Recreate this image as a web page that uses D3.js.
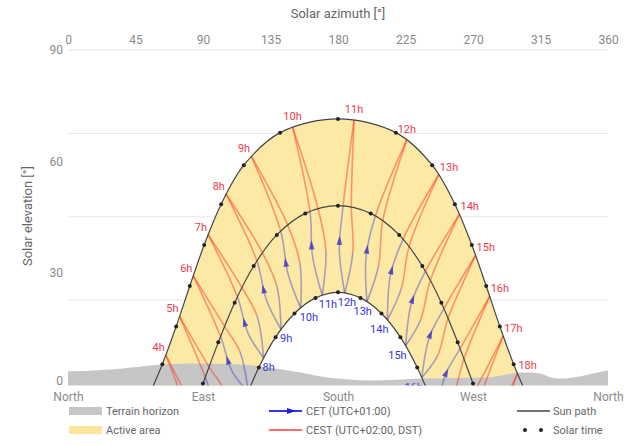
<!DOCTYPE html>
<html><head><meta charset="utf-8">
<script src="https://cdn.jsdelivr.net/npm/d3@7"></script>
<style>
html,body{margin:0;padding:0;background:#fff;}
svg{display:block;font-family:Roboto,"Noto Sans",sans-serif;}
</style></head><body>
<svg id="chart" width="640" height="446"></svg>
<script>
// ---------- data (azimuth °, elevation °) ----------
const azimuthTicks = [0,45,90,135,180,225,270,315,360];
const elevationTicks = [0,30,60,90];
const elevationGrid = [22.5,45,67.5,90];
const cardinalAzimuths = [0,90,180,270,360];
const cardinalNames = ["North","East","South","West","North"];

const terrainHorizon = [[0,3.3],[20,3.6],[35,4.0],[57,4.9],[75,5.3],[90,5.4],[110,5.2],[123,4.9],[139,4.0],[155,3.0],[173,1.6],[190,1.0],[201,0.8],[220,1.0],[235,1.35],[260,1.5],[279,1.6],[292,2.4],[301,3.0],[308,3.0],[315,2.7],[322,1.6],[328,1.35],[341,1.9],[350,2.7],[355,3.2],[360,3.5]];

// sun paths, one point per solar hour
const summerPath = [[52.8,-4.3],[62.9,5.2],[72.1,15.4],[81.2,26.3],[90.8,37.4],[102.1,48.4],[117.2,58.9],[141.4,67.7],[180,71.4],[218.6,67.7],[242.8,58.9],[257.9,48.4],[269.2,37.4],[278.8,26.3],[287.9,15.4],[297.1,5.2],[307.2,-4.3]];
const equinoxPath = [[79.8,-11.1],[90,0],[100.2,11.1],[111.1,21.8],[123.8,31.7],[139.2,40.1],[158.2,45.9],[180,48.0],[201.8,45.9],[220.8,40.1],[236.2,31.7],[248.9,21.8],[259.8,11.1],[270,0],[280.2,-11.1]];
const winterPath = [[117.2,-5.2],[127.2,4.3],[138.4,12.5],[151.0,18.9],[165.0,23.1],[180,24.6],[195.0,23.1],[209.0,18.9],[221.6,12.5],[232.8,4.3],[242.8,-5.2]];

// clock-hour lines (CET hour), key points through the year
const clockHours = [5,6,7,8,9,10,11,12,13,14,15,16,17,18,19];
const cestLabels = ["4h","5h","6h","7h","8h","9h","10h","11h","12h","13h","14h","15h","16h","17h","18h"];
const cetLabelHours = [8,9,10,11,12,13,14,15,16];
const winterPoints = [[101.5,-23.0],[110.6,-12.3],[120.1,-2.2],[130.4,6.9],[142.0,14.6],[155.1,20.4],[169.5,23.8],[184.5,24.4],[199.3,22.1],[213.0,17.2],[225.1,10.2],[235.9,1.6],[245.7,-8.2],[254.9,-18.7],[264.0,-29.6]];
const springLowPoints = [[89.6,-18.5],[99.5,-7.5],[109.4,3.3],[120.2,13.4],[132.4,22.4],[146.6,29.7],[163.0,34.4],[180.9,36.0],[198.7,34.1],[214.9,29.1],[228.9,21.6],[240.9,12.5],[251.6,2.3],[261.5,-8.6],[271.4,-19.7]];
const springEquinoxPoints = [[81.4,-9.4],[91.5,1.7],[101.7,12.7],[112.9,23.4],[125.9,33.1],[141.8,41.1],[161.3,46.5],[183.4,47.9],[204.9,45.2],[223.3,38.9],[238.3,30.3],[250.6,20.2],[261.4,9.4],[271.5,-1.7],[281.7,-12.7]];
const autumnEquinoxPoints = [[84.0,-6.7],[94.0,4.5],[104.4,15.4],[115.9,25.9],[129.6,35.3],[146.4,42.8],[166.7,47.2],[188.9,47.7],[209.8,43.9],[227.4,37.0],[241.6,27.9],[253.4,17.6],[264.0,6.7],[274.0,-4.5],[284.4,-15.4]];
const autumnLowPoints = [[94.6,-13.0],[104.4,-2.0],[114.7,8.5],[126.1,18.1],[139.2,26.3],[154.6,32.4],[171.9,35.6],[189.9,35.5],[207.1,31.9],[222.2,25.6],[235.1,17.2],[246.4,7.5],[256.6,-3.1],[266.4,-14.1],[276.6,-25.2]];
const summerPoints = [[65.2,7.7],[74.4,18.1],[83.6,29.0],[93.4,40.2],[105.3,51.2],[122.1,61.4],[149.7,69.2],[190.7,71.2],[225.9,65.8],[247.2,56.4],[261.0,45.7],[271.7,34.6],[281.1,23.5],[290.1,12.8],[299.6,2.7]];

const legendItems = ["Terrain horizon","Active area","CET (UTC+01:00)","CEST (UTC+02:00, DST)","Sun path","Solar time"];

// ---------- drawing ----------
const svg = d3.select("#chart");
const x = d3.scaleLinear().domain([0,360]).range([68,608]);
const y = d3.scaleLinear().domain([0,90]).range([383.5,50]);

const COL_RED = "#ff2a10", COL_BLUE = "#3434c8";
const lineGen = d3.line().x(p=>x(p[0])).y(p=>y(p[1])).curve(d3.curveCatmullRom.alpha(0.5));

svg.append("defs").append("clipPath").attr("id","plotClip")
  .append("rect").attr("x",68).attr("y",50).attr("width",540).attr("height",335.5);

// titles
svg.append("text").attr("x",338).attr("y",18).attr("text-anchor","middle")
  .attr("font-size",13).attr("fill","#666").text("Solar azimuth [°]");
svg.append("text").attr("transform","translate(32,216) rotate(-90)").attr("text-anchor","middle")
  .attr("font-size",13).attr("fill","#666").text("Solar elevation [°]");

// gridlines
svg.append("g").selectAll("line").data(elevationGrid).join("line")
  .attr("x1",x(0)).attr("x2",x(360)).attr("y1",d=>y(d)).attr("y2",d=>y(d))
  .attr("stroke","#e6e6e6").attr("stroke-width",1);

// axes
function styleAxis(g){
  g.select(".domain").remove();
  g.selectAll(".tick line").remove();
  g.selectAll("text").attr("fill","#8a8a8a").attr("font-size",12).attr("font-family","Roboto,'Noto Sans',sans-serif");
}
svg.append("g").attr("transform","translate(0,50)")
  .call(d3.axisTop(x).tickValues(azimuthTicks).tickSize(0).tickPadding(6)).call(styleAxis);
const leftAxis = svg.append("g").attr("transform","translate(68,0)")
  .call(d3.axisLeft(y).tickValues(elevationTicks).tickSize(0).tickPadding(5)).call(styleAxis);
leftAxis.selectAll(".tick text").filter(d=>d===0).attr("dy","0.1em");
svg.append("g").attr("transform","translate(0,383.5)")
  .call(d3.axisBottom(x).tickValues(cardinalAzimuths).tickFormat((d,i)=>cardinalNames[i]).tickSize(0).tickPadding(9))
  .call(styleAxis);

const plot = svg.append("g").attr("clip-path","url(#plotClip)");

// active area
const outer = lineGen(summerPath);
const inner = lineGen(winterPath.slice().reverse()).replace(/^M/,"L");
plot.append("path").attr("d",outer+inner+"Z").attr("fill","#fce9a6").attr("stroke","none");

// terrain
plot.append("path").datum(terrainHorizon)
  .attr("d",d3.area().x(p=>x(p[0])).y0(y(-1)).y1(p=>y(p[1])).curve(d3.curveMonotoneX))
  .attr("fill","#c6c6c6");

// helper: split a catmull-rom path into its per-segment cubic pieces
function pieces(points){
  const d = lineGen(points);
  const start = d.match(/^M([^C]+)/)[1];
  const segs = d.match(/C[^C]*/g);
  const starts = [start];
  segs.forEach(s=>{const n=s.slice(1).split(","); starts.push(n[4]+","+n[5]);});
  return (i,j)=>"M"+starts[i]+segs.slice(i,j).join("");
}

const hourG = plot.append("g");
clockHours.forEach((h,i)=>{
  const W=winterPoints[i], Ls=springLowPoints[i], Es=springEquinoxPoints[i],
        Ea=autumnEquinoxPoints[i], La=autumnLowPoints[i], S=summerPoints[i];
  const sp = pieces([W,Ls,Es,S]);
  const ap = pieces([S,Ea,La,W]);
  // CEST parts
  hourG.append("path").attr("d",sp(2,3)).attr("fill","none").attr("stroke",COL_RED).attr("stroke-opacity",0.45).attr("stroke-width",1.6);
  hourG.append("path").attr("d",ap(0,2)).attr("fill","none").attr("stroke",COL_RED).attr("stroke-opacity",0.45).attr("stroke-width",1.6);
  // CET parts
  const bl = hourG.append("path").attr("d",sp(0,2)).attr("fill","none").attr("stroke",COL_BLUE).attr("stroke-opacity",0.42).attr("stroke-width",1.6);
  hourG.append("path").attr("d",ap(2,3)).attr("fill","none").attr("stroke",COL_BLUE).attr("stroke-opacity",0.42).attr("stroke-width",1.6);
  // arrow
  const node = bl.node(), L = node.getTotalLength();
  const p = node.getPointAtLength(L*0.6), q = node.getPointAtLength(Math.min(L, L*0.6+1));
  const ang = Math.atan2(q.y-p.y, q.x-p.x)*180/Math.PI;
  hourG.append("path").attr("d","M5,0L-4,-2.8L-4,2.8Z")
    .attr("transform",`translate(${p.x},${p.y}) rotate(${ang})`)
    .attr("fill","#3a30c8").attr("fill-opacity",0.8);
});

// sun paths
[summerPath,equinoxPath,winterPath].forEach(path=>{
  plot.append("path").attr("d",lineGen(path)).attr("fill","none").attr("stroke","#444").attr("stroke-width",1.2);
  plot.append("g").selectAll("circle").data(path).join("circle")
    .attr("cx",p=>x(p[0])).attr("cy",p=>y(p[1])).attr("r",2).attr("fill","#222");
});

// hour labels
const lab = plot.append("g").attr("font-size",11);
clockHours.forEach((h,i)=>{
  const S = summerPoints[i];
  let anchor="middle", dx=0, dy=-7;
  if (S[0] < 140){anchor="end"; dx=-1; dy=-4;}
  else if (S[0] > 232){anchor="start"; dx=1; dy=-4;}
  lab.append("text").attr("x",x(S[0])+dx).attr("y",y(S[1])+dy).attr("text-anchor",anchor)
    .attr("fill","#f03a4a").text(cestLabels[i]);
});
cetLabelHours.forEach(h=>{
  const W = winterPoints[clockHours.indexOf(h)];
  let anchor="start", dx=-1;
  if (W[0] > 165 && W[0] < 178){dx=-3.5;}
  else if (W[0] >= 178 && W[0] < 190){dx=-7;}
  else if (W[0] >= 190 && W[0] < 205){anchor="end"; dx=5;}
  else if (W[0] >= 205){anchor="end"; dx=1;}
  lab.append("text").attr("x",x(W[0])+dx).attr("y",y(W[1])+13).attr("text-anchor",anchor)
    .attr("fill","#3535e0").text(h+"h");
});

// legend
const lg = svg.append("g").attr("font-size",11).attr("fill","#666");
const r1 = 411, r2 = 430;
lg.append("rect").attr("x",69).attr("y",r1-4).attr("width",33).attr("height",8).attr("fill","#c6c6c6");
lg.append("text").attr("x",106).attr("y",r1+4).text(legendItems[0]);
lg.append("rect").attr("x",69).attr("y",r2-4).attr("width",33).attr("height",8).attr("fill","#fce59a");
lg.append("text").attr("x",106).attr("y",r2+4).text(legendItems[1]);
lg.append("line").attr("x1",269).attr("x2",302).attr("y1",r1).attr("y2",r1).attr("stroke","#3535e0").attr("stroke-width",2);
lg.append("path").attr("d","M5,0L-4,-3L-4,3Z").attr("transform",`translate(291,${r1})`).attr("fill","#2020d0");
lg.append("text").attr("x",306).attr("y",r1+4).text(legendItems[2]);
lg.append("line").attr("x1",269).attr("x2",302).attr("y1",r2).attr("y2",r2).attr("stroke","#ff6a6a").attr("stroke-width",2);
lg.append("text").attr("x",306).attr("y",r2+4).text(legendItems[3]);
lg.append("line").attr("x1",517).attr("x2",550).attr("y1",r1).attr("y2",r1).attr("stroke","#444").attr("stroke-width",1.5);
lg.append("text").attr("x",553).attr("y",r1+4).text(legendItems[4]);
lg.append("circle").attr("cx",525).attr("cy",r2).attr("r",2).attr("fill","#222");
lg.append("circle").attr("cx",541).attr("cy",r2).attr("r",2).attr("fill","#222");
lg.append("text").attr("x",553).attr("y",r2+4).text(legendItems[5]);
</script>
</body></html>
